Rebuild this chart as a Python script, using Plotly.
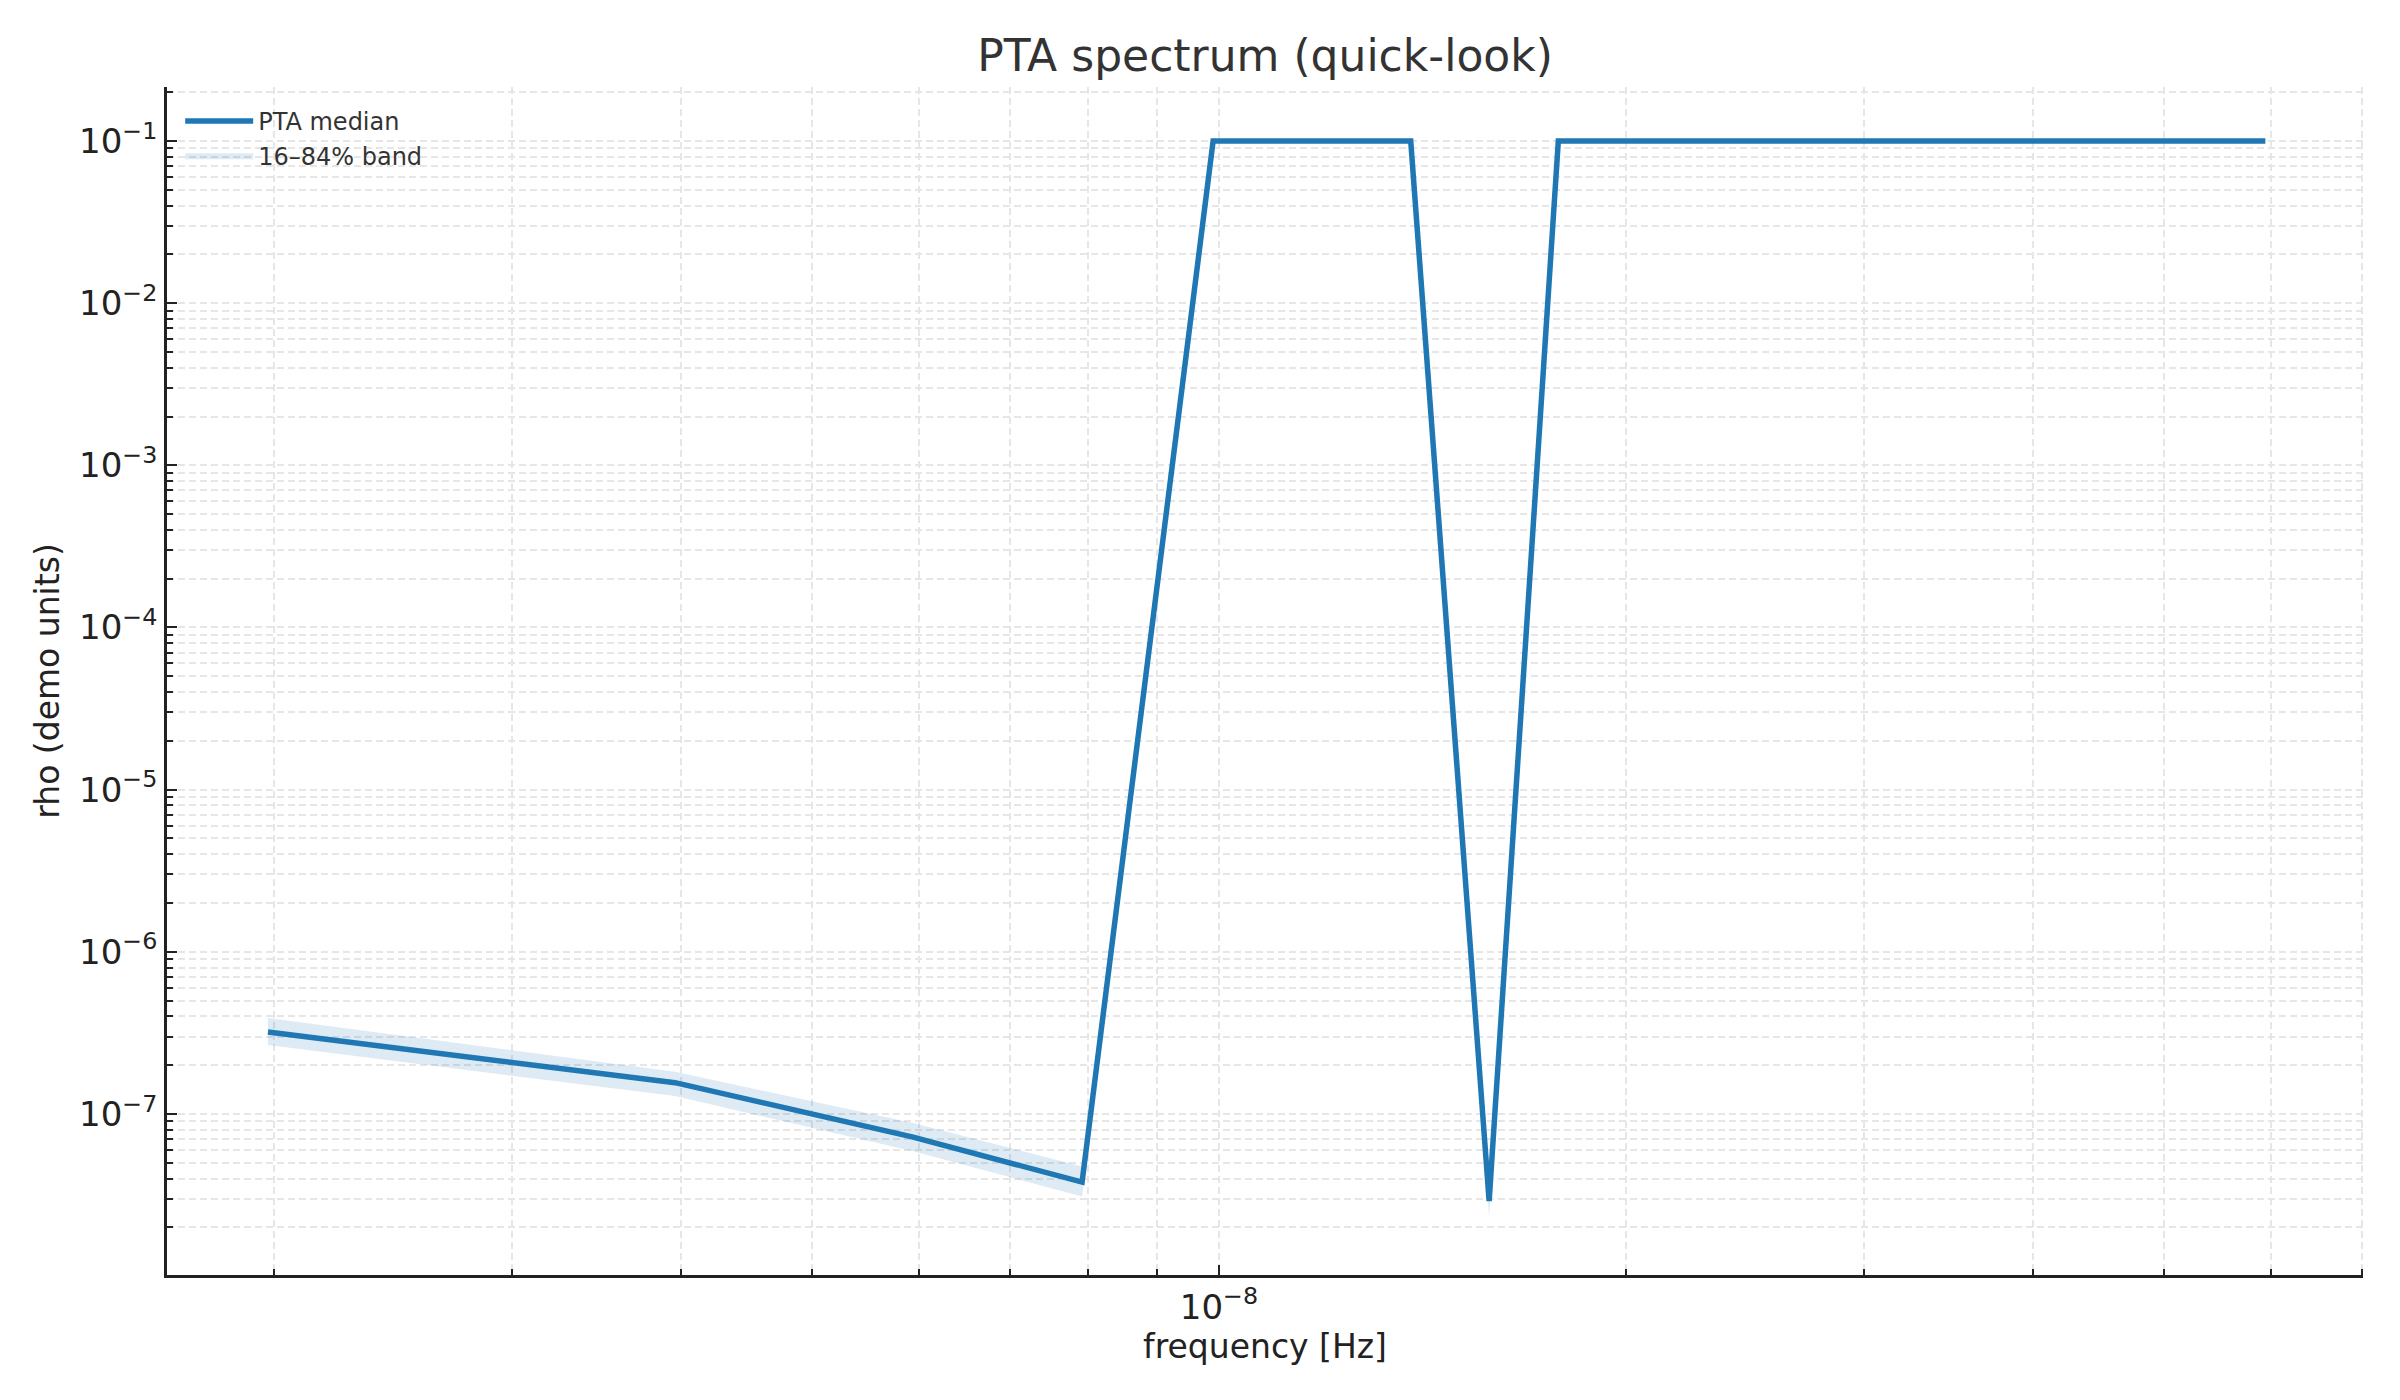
import plotly.graph_objects as go

# ---- data ----
freq = [1.98e-9, 3.96e-9, 5.94e-9, 7.92e-9, 9.90e-9, 1.188e-8, 1.386e-8, 1.584e-8,
        1.782e-8, 1.98e-8, 2.178e-8, 2.376e-8, 2.574e-8, 2.772e-8, 2.97e-8, 3.168e-8,
        3.366e-8, 3.564e-8, 3.762e-8, 3.96e-8, 4.158e-8, 4.356e-8, 4.554e-8, 4.752e-8,
        4.95e-8, 5.148e-8, 5.346e-8, 5.544e-8, 5.742e-8, 5.94e-8]
rho_median = [3.2e-7, 1.56e-7, 7.2e-8, 3.8e-8, 0.1, 0.1, 0.1, 2.9e-8,
              0.1, 0.1, 0.1, 0.1, 0.1, 0.1, 0.1, 0.1,
              0.1, 0.1, 0.1, 0.1, 0.1, 0.1, 0.1, 0.1,
              0.1, 0.1, 0.1, 0.1, 0.1, 0.1]
rho_lo = [2.66e-7, 1.29e-7, 5.9e-8, 3.1e-8, 0.1, 0.1, 0.1, 2.3e-8,
          0.1, 0.1, 0.1, 0.1, 0.1, 0.1, 0.1, 0.1,
          0.1, 0.1, 0.1, 0.1, 0.1, 0.1, 0.1, 0.1,
          0.1, 0.1, 0.1, 0.1, 0.1, 0.1]
rho_hi = [3.9e-7, 1.82e-7, 8.8e-8, 4.75e-8, 0.1, 0.1, 0.1, 3.6e-8,
          0.1, 0.1, 0.1, 0.1, 0.1, 0.1, 0.1, 0.1,
          0.1, 0.1, 0.1, 0.1, 0.1, 0.1, 0.1, 0.1,
          0.1, 0.1, 0.1, 0.1, 0.1, 0.1]

y_major = [1e-7, 1e-6, 1e-5, 1e-4, 1e-3, 1e-2, 1e-1]
y_major_text = ["10<sup>\u22127</sup>", "10<sup>\u22126</sup>", "10<sup>\u22125</sup>",
                "10<sup>\u22124</sup>", "10<sup>\u22123</sup>", "10<sup>\u22122</sup>",
                "10<sup>\u22121</sup>"]
y_minor = [m * 10.0 ** e for e in range(-9, 0) for m in range(2, 10)]
x_major = [1e-8]
x_major_text = ["10<sup>\u22128</sup>"]
x_minor = [m * 10.0 ** e for e in (-9, -8) for m in range(2, 10)]

BLUE = "#1f77b4"
BAND = "rgba(31,119,180,0.15)"
GRID = "#e6e6e6"
AX = "#222222"
FONT = "DejaVu Sans"

fig = go.Figure()
fig.add_trace(go.Scatter(x=freq, y=rho_median, mode="lines", name="PTA median",
                         line=dict(color=BLUE, width=5.5)))
fig.add_trace(go.Scatter(x=freq, y=rho_lo, mode="lines", showlegend=False,
                         line=dict(width=0, color=BAND), hoverinfo="skip"))
fig.add_trace(go.Scatter(x=freq, y=rho_hi, mode="lines", name="16\u201384% band",
                         fill="tonexty", fillcolor=BAND,
                         line=dict(width=0, color=BAND), hoverinfo="skip"))

axis_common = dict(
    type="log", showline=True, linecolor=AX, linewidth=2.5, mirror=False,
    ticks="inside", ticklen=10, tickwidth=2, tickcolor=AX,
    showgrid=True, gridcolor=GRID, gridwidth=1.5, griddash="7px,4px",
    zeroline=False, automargin=False,
    tickfont=dict(family=FONT, size=34, color=AX),
)

fig.update_xaxes(
    **axis_common,
    range=[-8.778, -7.154],
    tickmode="array", tickvals=x_major, ticktext=x_major_text,
    minor=dict(tickmode="array", tickvals=x_minor, ticks="inside", ticklen=6,
               tickwidth=1.5, tickcolor=AX, showgrid=True, gridcolor=GRID,
               gridwidth=1.5, griddash="7px,4px"),
    title=dict(text="frequency [Hz]", font=dict(family=FONT, size=33, color=AX), standoff=8),
)
fig.update_yaxes(
    **axis_common,
    range=[-7.993, -0.667],
    tickmode="array", tickvals=y_major, ticktext=y_major_text,
    minor=dict(tickmode="array", tickvals=y_minor, ticks="inside", ticklen=6,
               tickwidth=1.5, tickcolor=AX, showgrid=True, gridcolor=GRID,
               gridwidth=1.5, griddash="7px,4px"),
    title=dict(text="rho (demo units)", font=dict(family=FONT, size=33, color=AX), standoff=10),
)

fig.update_layout(
    width=2392, height=1392,
    margin=dict(l=159, r=37, t=79, b=125, pad=0),
    paper_bgcolor="white", plot_bgcolor="white",
    font=dict(family=FONT, color="#333333"),
    title=dict(text="PTA spectrum (quick-look)", x=0.5, xref="paper", xanchor="center",
               y=1 - 48 / 1392, yref="container", yanchor="middle",
               font=dict(family=FONT, size=44, color="#333333")),
    legend=dict(x=0.006, y=0.99, xanchor="left", yanchor="top",
                bgcolor="rgba(0,0,0,0)", borderwidth=0, traceorder="normal",
                itemwidth=68,
                font=dict(family=FONT, size=24, color="#333333"),
                tracegroupgap=0),
    showlegend=True,
)

fig.write_html("out.html")
